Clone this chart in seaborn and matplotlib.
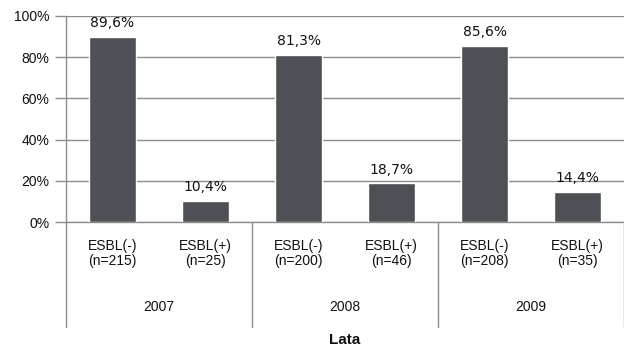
import matplotlib
matplotlib.use("Agg")
import matplotlib.pyplot as plt
import matplotlib.transforms as mtransforms
import seaborn as sns
import pandas as pd

years = ["2007", "2008", "2009"]
groups = ["ESBL(-)", "ESBL(+)"]
counts = [215, 25, 200, 46, 208, 35]
values = [89.6, 10.4, 81.3, 18.7, 85.6, 14.4]
value_labels = ["89,6%", "10,4%", "81,3%", "18,7%", "85,6%", "14,4%"]
yticks = [0, 20, 40, 60, 80, 100]
x_title = "Lata"

keys, tick_labels = [], []
i = 0
for y in years:
    for g in groups:
        keys.append(f"{y}_{g}")
        tick_labels.append(f"{g}\n(n={counts[i]})")
        i += 1
df = pd.DataFrame({"key": keys, "val": values})

sns.set_theme(style="white")
plt.rcParams["font.family"] = ["Liberation Sans", "DejaVu Sans"]

fig = plt.figure(figsize=(6.24, 3.49), dpi=100)
ax = fig.add_axes([66 / 624, 1 - 222 / 349, 1 - 66 / 624, 206 / 349])

bar_color = "#4d5054"
grid_color = "#8c8c8c"
sns.barplot(data=df, x="key", y="val", order=keys, color=bar_color,
            width=0.5, saturation=1, ax=ax, zorder=3)

ax.set_xlim(-0.5, len(keys) - 0.5)
ax.set_ylim(0, 100)
ax.set_yticks(yticks)
ax.set_yticklabels([f"{t}%" for t in yticks], fontsize=10, color="#111111")
ax.yaxis.grid(True, color=grid_color, linewidth=1.0, zorder=0)
ax.set_axisbelow(True)
ax.tick_params(axis="y", length=8, width=1, color=grid_color, direction="out", pad=4, left=True)

ax.set_xticks(range(len(keys)))
ax.set_xticklabels(tick_labels, fontsize=10, color="#111111", linespacing=1.15)
ax.tick_params(axis="x", length=0, pad=12)
ax.set_xlabel("")
ax.set_ylabel("")

for s in ["top", "right"]:
    ax.spines[s].set_visible(False)
ax.spines["left"].set_color(grid_color)
ax.spines["bottom"].set_color(grid_color)
ax.spines["left"].set_linewidth(1)
ax.spines["bottom"].set_linewidth(1)

for p, lab in zip(ax.patches, value_labels):
    ax.annotate(lab, (p.get_x() + p.get_width() / 2, p.get_height()),
                xytext=(0, 5), textcoords="offset points", ha="center", va="bottom",
                fontsize=10, family="DejaVu Sans", color="#111111")

trans = mtransforms.blended_transform_factory(ax.transData, ax.transAxes)
ax_h = 206
for k in range(len(years) + 1):
    xs = -0.5 + 2 * k
    ax.plot([xs, xs], [0, -(327 - 222) / ax_h], transform=trans, color=grid_color,
            linewidth=1, clip_on=False)
for k, y in enumerate(years):
    ax.text(2 * k + 0.5, -(307 - 222) / ax_h, y, transform=trans, ha="center",
            va="center", fontsize=10, color="#111111")

fig.text(0.5 * (66 + 624) / 624, 1 - 340 / 349, x_title, ha="center", va="center",
         fontsize=11, fontweight="bold", color="#111111")

fig.savefig("out.png", dpi=100, facecolor="white")
